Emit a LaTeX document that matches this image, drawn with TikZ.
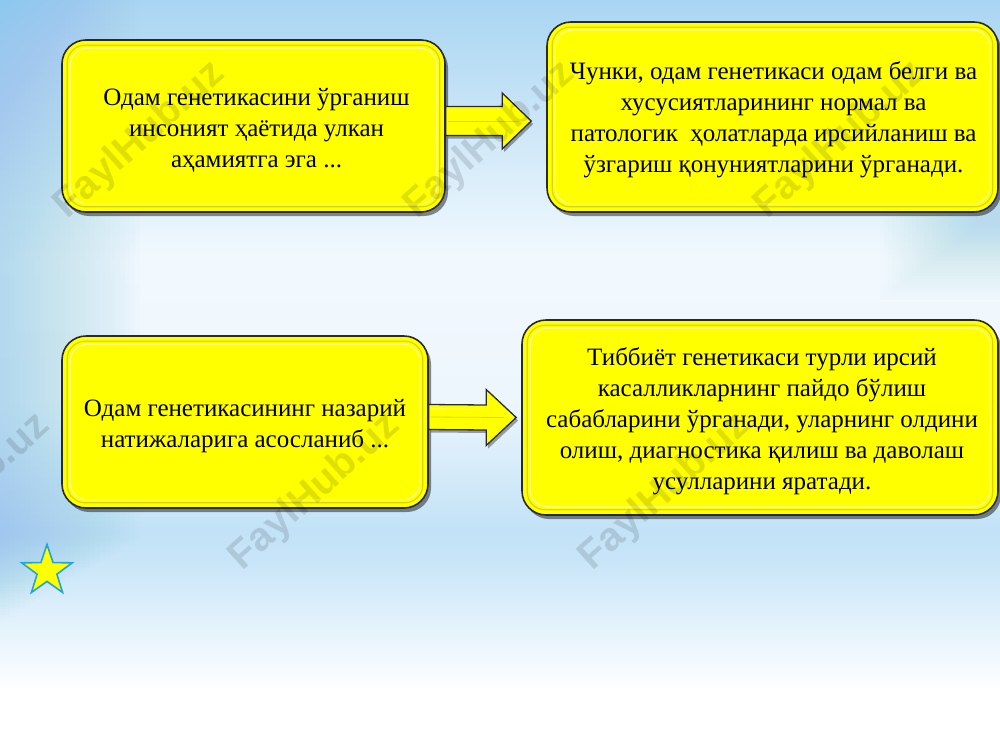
\documentclass[tikz,border=0pt]{standalone}
\usepackage{fontspec}
\setmainfont{Liberation Serif}
\newfontfamily\wmfont{Liberation Sans}
\usetikzlibrary{calc,shapes.geometric}
\definecolor{boxyellow}{HTML}{FFFF00}
\definecolor{edgedark}{HTML}{2A2A2A}
\definecolor{bevlight}{HTML}{FFFFB0}
\definecolor{bevdark}{HTML}{D8D800}
\definecolor{starblue}{HTML}{22A3DD}
\definecolor{bgA}{HTML}{A9D5F2}
\definecolor{bgB}{HTML}{F2F9FE}
\definecolor{bgC}{HTML}{EDF6FD}
\definecolor{bgD}{HTML}{C2E2F7}
\definecolor{bgE}{HTML}{C8E5F8}
\definecolor{bandblue}{HTML}{8CC8EE}
\begin{document}
\begin{tikzpicture}[x=1pt,y=-1pt,
  box/.style={rectangle, rounded corners=24pt, fill=boxyellow, draw=edgedark,
    line width=1.6pt, inner sep=0pt,
    preaction={fill=black, opacity=.45, transform canvas={xshift=3pt,yshift=-4pt}}},
  boxtext/.style={align=center, inner sep=0pt, font=\fontsize{25}{31}\selectfont},
  bevelA/.style={draw=bevdark, line width=1.2pt, rounded corners=18pt},
  bevelB/.style={draw=bevlight, line width=1pt, rounded corners=17pt},
  blockarrow/.style={fill=boxyellow, draw=edgedark, line width=1.3pt, line join=miter,
    preaction={fill=black, opacity=.35, transform canvas={xshift=2pt,yshift=-3pt}}},
  wm/.style={font=\wmfont\bfseries\fontsize{40}{40}\selectfont, text=black, text opacity=.12, rotate=42},
  stardeco/.style={star, star points=5, star point ratio=2.55, minimum size=53pt, inner sep=0pt,
    fill=boxyellow, draw=starblue, line width=1.6pt}
]
\useasboundingbox (0,0) rectangle (1000,750);
\clip (0,0) rectangle (1000,750);
% background
\shade[top color=bgA, bottom color=bgB] (0,0) rectangle (1000,260);
\shade[top color=bgB, bottom color=bgC] (0,260) rectangle (1000,400);
\shade[top color=bgC, bottom color=bgD] (0,400) rectangle (1000,530);
\shade[top color=bgD, bottom color=bgE] (0,530) rectangle (1000,560);
\shade[top color=bgE, bottom color=white] (0,560) rectangle (1000,690);
\fill[white] (0,690) rectangle (1000,750);
\foreach \i in {0,...,27}{
  \fill[bandblue, opacity=.022] (0,0) rectangle ({140-5*\i},{540+3*\i});
}
\foreach \i in {0,...,24}{
  \fill[bandblue, opacity=.02] ({880+4*\i},{40+2*\i}) rectangle (1000,{300-3*\i});
}

% boxes
\node[box, minimum width=383pt, minimum height=172pt] (b1) at (253.5,126) {};
\node[box, minimum width=451pt, minimum height=190pt] (b2) at (772.5,117) {};
\node[box, minimum width=366pt, minimum height=172pt] (b3) at (245,422) {};
\node[box, minimum width=476pt, minimum height=195pt] (b4) at (760,417.5) {};

\foreach \b in {b1,b2,b3,b4}{
  \draw[bevelA] ($(\b.south west)+(6,-6)$) rectangle ($(\b.north east)+(-6,6)$);
  \draw[bevelB] ($(\b.south west)+(9,-9)$) rectangle ($(\b.north east)+(-9,9)$);
}

\node[boxtext] (t1) at ($(b1.center)+(3,4)$)
  {Одам генетикасини ўрганиш\\инсоният ҳаётида улкан\\аҳамиятга эга ...};
\node[boxtext] (t2) at ($(b2.center)+(1,3)$)
  {Чунки, одам генетикаси одам белги ва\\хусусиятларининг нормал ва\\патологик\ \ ҳолатларда ирсийланиш ва\\ўзгариш қонуниятларини ўрганади.};
\node[boxtext] (t3) at ($(b3.center)+(0,4)$)
  {Одам генетикасининг назарий\\натижаларига асосланиб ...};
\node[boxtext] (t4) at ($(b4.center)+(2,4)$)
  {Тиббиёт генетикаси турли ирсий\\касалликларнинг пайдо бўлиш\\сабабларини ўрганади, уларнинг олдини\\олиш, диагностика қилиш ва даволаш\\усулларини яратади.};

% arrows
\coordinate (a1s) at ($(b1.east)+(0,-5)$);
\coordinate (a1t) at ($(b2.west)+(-15,4)$);
\coordinate (a2s) at ($(b3.east)+(0,-5)$);
\coordinate (a2t) at ($(b4.west)+(-5,0)$);
\draw[blockarrow] ($(a1s)+(0,-14.5)$) -- ($(a1t)+(-29,-14.5)$) -- ($(a1t)+(-29,-28)$) -- (a1t)
  -- ($(a1t)+(-29,28)$) -- ($(a1t)+(-29,14.5)$) -- ($(a1s)+(0,14.5)$) -- cycle;
\draw[bevlight, line width=.8pt] ($(a1s)+(2,-10)$) -- ($(a1t)+(-31,-10)$);
\draw[bevdark, line width=.8pt] ($(a1s)+(2,0)$) -- ($(a1t)+(-12,0)$);
\draw[blockarrow] ($(a2s)+(0,-12.5)$) -- ($(a2t)+(-30,-12.5)$) -- ($(a2t)+(-30,-28)$) -- (a2t)
  -- ($(a2t)+(-30,28)$) -- ($(a2t)+(-30,12.5)$) -- ($(a2s)+(0,12.5)$) -- cycle;
\draw[bevlight, line width=.8pt] ($(a2s)+(2,-8)$) -- ($(a2t)+(-32,-8)$);
\draw[bevdark, line width=.8pt] ($(a2s)+(2,0)$) -- ($(a2t)+(-12,0)$);

% star
\node[stardeco] (st) at (47,571) {};

% watermarks
\node[wm] (w1) at (140,140) {FaylHub.uz};
\node[wm] (w2) at (490,140) {FaylHub.uz};
\node[wm] (w3) at (840,140) {FaylHub.uz};
\node[wm] (w4) at (-35,492) {FaylHub.uz};
\node[wm] (w5) at (315,492) {FaylHub.uz};
\node[wm] (w6) at (665,492) {FaylHub.uz};
\end{tikzpicture}
\end{document}
